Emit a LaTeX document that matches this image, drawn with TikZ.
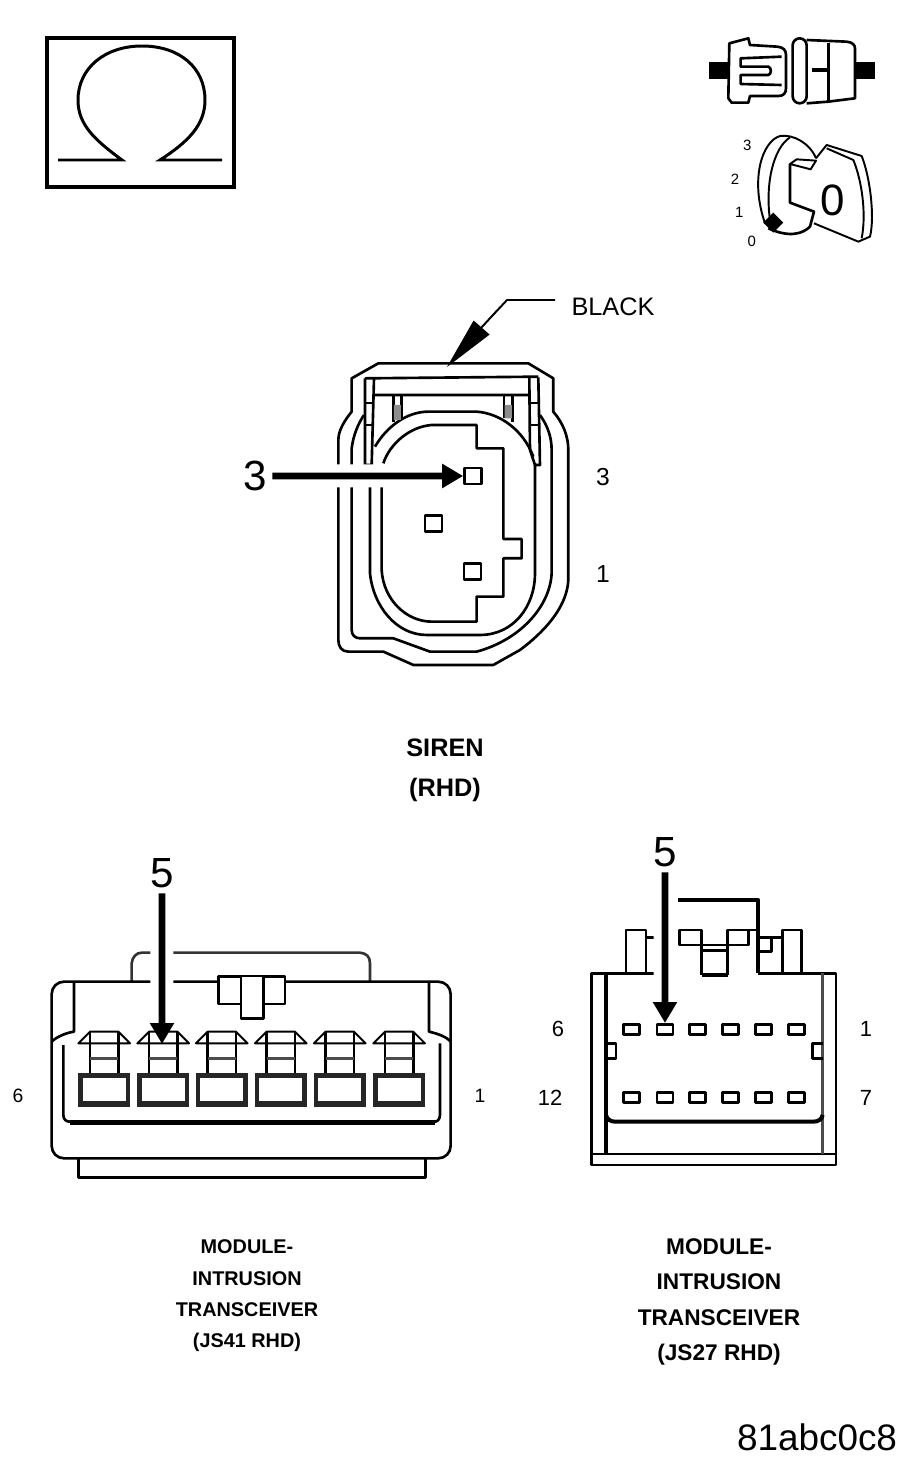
\documentclass[tikz,border=0pt]{standalone}
\usepackage{fontspec}
\setmainfont{Liberation Sans}
\usetikzlibrary{arrows.meta, calc, positioning}
\tikzset{
    wire/.style={line width=1.5pt, line join=round},
    wireThin/.style={line width=1.1pt, line join=round},
    wireHeavy/.style={line width=2.3pt, line join=round},
    pointer/.style={-{Triangle[length=0.42cm, width=0.46cm]}, line width=3.8pt, shorten <=3pt},
    halo/.style={white, line width=0.46cm},
    pinBox/.style={rectangle, draw, wire, fill=white, inner sep=0pt, minimum width=0.34cm, minimum height=0.32cm},
    pinSlot/.style={rectangle, draw, wire, fill=white, inner sep=0pt, minimum width=0.32cm, minimum height=0.2cm},
    bigNum/.style={font=\fontsize{24}{24}\selectfont, inner sep=0pt},
    pinNum/.style={font=\fontsize{12.5}{13}\selectfont, inner sep=0pt},
    keyNum/.style={font=\fontsize{8.5}{9}\selectfont, inner sep=0pt},
    caption/.style={align=center, inner sep=0pt, font=\bfseries},
}
% terminal of the left module, x is its left edge
\newcommand{\drawCavity}[1]{
    \fill[black!85] (#1,430) rectangle ++(155,100);
    \fill[white] (#1+13,445) rectangle ++(129,67);
    \draw[wireThin] (#1,340) -- ++(155,0) -- ++(-35,-35) -- ++(-85,0) -- cycle;
    \draw[wire] (#1+35,305) -- ++(0,125) (#1+120,305) -- ++(0,125);
    \draw[line width=2pt, black!70] (#1+35,385) -- ++(85,0);
}
% arrow from a label, with a white gap under it up to #2
\newcommand{\drawPointer}[3]{
    \draw[halo] (#1) -- (#2);
    \draw[pointer] (#1) -- (#3);
}

\begin{document}
\begin{tikzpicture}[x=0.02cm, y=-0.02cm]
    \useasboundingbox (0,0) rectangle (917,1467);

    % ohm box
    \draw[line width=2pt] (47,38) rectangle (234,187);
    \draw[line width=1.7pt] (58,160) -- (122,160) .. controls (95,140) and (78,125) .. (78,100)
        .. controls (78,68) and (105,46) .. (142,46) .. controls (180,46) and (205,68) .. (205,100)
        .. controls (205,125) and (188,142) .. (160,160) -- (222,160);

    % connector icon
    \begin{scope}[shift={(690,20)}, scale=0.3333]
        \fill (58,125) rectangle (118,178);
        \fill (497,125) rectangle (555,178);
        \draw[wire] (118,70) -- (175,55) -- (180,75) -- (262,80) .. controls (280,82) and (288,90) .. (288,105)
            -- (288,205) .. controls (288,220) and (280,228) .. (265,228) -- (180,228) -- (175,248) -- (125,248) -- (115,235) -- cycle;
        \draw[wire] (275,110) -- (152,115) -- (152,140) -- (235,140) .. controls (245,142) and (245,163) .. (235,165)
            -- (152,165) -- (152,192) -- (275,195);
        \draw[wire] (350,60) -- (470,65) .. controls (488,67) and (495,75) .. (495,85) -- (495,235) -- (415,245) -- (350,250);
        \draw[wire, rounded corners=4pt] (308,55) rectangle (350,250);
        \draw[wire] (415,68) -- (415,242);
        \draw[wireHeavy] (365,150) -- (415,150);
    \end{scope}

    % key icon
    \begin{scope}[shift={(690,20)}, scale=0.3333]
        \draw[wireThin] (270,348) .. controls (215,365) and (180,480) .. (225,610);
        \draw[wireThin] (270,348) .. controls (310,342) and (360,370) .. (378,415);
        \draw[wireThin] (300,352) .. controls (250,385) and (225,490) .. (240,600);
        \draw[wireThin] (378,422) -- (320,418) -- (300,432) -- (362,448) -- cycle;
        \draw[wire] (300,432) -- (300,548) -- (372,575) -- (360,620) .. controls (340,640) and (300,655) .. (235,625);
        \draw[wireThin] (378,415) -- (410,375) -- (515,408) .. controls (540,470) and (555,590) .. (540,650) -- (505,665) -- (372,610);
        \draw[wireThin] (410,385) -- (490,420) .. controls (515,480) and (530,580) .. (515,655);
        \fill (250,578) -- (280,608) -- (250,638) -- (220,608) -- cycle;
        \node[font=\fontsize{25}{25}\selectfont, inner sep=0pt] (keyZero) at (428,541) {0};
        \node[keyNum] (keyThree) at (172,375) {3};
        \node[keyNum] (keyTwo) at (135,478) {2};
        \node[keyNum] (keyOne) at (148,578) {1};
        \node[keyNum] (keyNil) at (185,665) {0};
    \end{scope}

    % siren connector
    \begin{scope}[shift={(320,340)}, scale=0.3333]
        \draw[wire] (55,380) -- (55,300) .. controls (55,270) and (75,240) .. (95,215) -- (95,115) -- (175,70) -- (625,70) -- (700,115) -- (700,215)
            .. controls (730,250) and (745,290) .. (745,330) -- (745,720) .. controls (740,820) and (640,900) .. (600,930) -- (520,975) -- (280,975) -- (190,935) -- (85,935)
            .. controls (65,935) and (55,920) .. (55,900) -- (55,380);
        \draw[wire] (95,380) -- (95,325) .. controls (100,285) and (115,250) .. (132,225);
        \draw[wire] (660,225) .. controls (685,260) and (695,295) .. (695,330) -- (695,700) .. controls (690,800) and (600,900) .. (470,935) -- (330,935) -- (220,895) -- (120,895)
            .. controls (105,895) and (95,885) .. (95,870) -- (95,380);
        \draw[wire] (150,380) -- (150,700) .. controls (160,800) and (230,885) .. (320,885) -- (480,885) .. controls (580,885) and (645,800) .. (645,700) -- (645,370);
        \draw[wire] (165,320) .. controls (200,260) and (260,215) .. (325,215) -- (470,215) .. controls (540,220) and (610,270) .. (640,350);
        \draw[wire] (185,380) -- (185,690) .. controls (190,780) and (260,845) .. (335,845) -- (470,845) -- (470,770) -- (550,770) -- (550,655) -- (605,655) -- (605,597) -- (550,597)
            -- (550,325) -- (470,325) -- (470,255) -- (335,255) .. controls (270,260) and (210,310) .. (190,370);
        \draw[wire] (135,115) -- (655,110) (165,165) -- (630,165);
        \draw[wire] (135,115) -- (135,375) -- (155,375) -- (162,115);
        \draw[wire] (628,112) -- (630,330) -- (645,375) -- (660,375) -- (655,112);
        \draw[wireThin] (135,190) -- (162,190) (135,255) -- (160,255) (630,190) -- (657,190) (630,255) -- (657,255);
        \draw[wire] (220,167) -- (220,245) (245,167) -- (245,235) (552,167) -- (552,235) (578,167) -- (578,245);
        \fill[black!45] (222,195) rectangle (243,240) (554,195) rectangle (576,235);
        \node[pinBox] (sirenPin3) at (459,408) {};
        \node[pinBox] (sirenPin2) at (341,551) {};
        \node[pinBox] (sirenPin1) at (458,695) {};
        \coordinate (sirenGap) at (200,408);
    \end{scope}
    \node[bigNum] (sirenLabel) at (255,476) {3};
    \drawPointer{sirenLabel.east}{sirenGap}{sirenPin3.west}
    \node[font=\fontsize{14.4}{15}\selectfont, inner sep=0pt] (blackLabel) at (613,307) {BLACK};
    \coordinate (blackTip) at (447,367);
    \draw[wireThin] (555,300) -- (507,300) -- (480,329);
    \draw[-{Triangle[length=1.05cm, width=0.42cm]}, line width=0.6pt] (497,310) -- (blackTip);
    \node[pinNum, font=\fontsize{14}{14}\selectfont] (sirenThree) at (603,477) {3};
    \node[pinNum, font=\fontsize{14}{14}\selectfont] (sirenOne) at (603,574) {1};
    \node[caption, font=\bfseries\fontsize{14.4}{22.8}\selectfont] (sirenCaption) at (445,770) {SIREN\\(RHD)};

    % left module
    \begin{scope}[shift={(40,930)}, scale=0.3333]
        \draw[wire, black!80] (275,155) -- (275,100) .. controls (277,80) and (290,68) .. (305,68) -- (960,68) .. controls (980,70) and (990,80) .. (990,100) -- (990,155);
        \draw[wire, rounded corners=7pt] (35,340) -- (35,155) -- (1232,155) -- (1232,685) -- (35,685) -- cycle;
        \draw[wire, fill=white] (535,155) -- (535,222) -- (735,222) -- (735,155) -- (735,140) -- (535,140) -- cycle;
        \draw[wire, fill=white] (603,140) -- (603,265) -- (670,265) -- (670,140);
        \draw[wire] (102,155) -- (102,305) .. controls (80,308) and (50,320) .. (35,335);
        \draw[wire] (1167,155) -- (1167,305) .. controls (1190,310) and (1220,320) .. (1232,335);
        \draw[wire] (70,345) -- (70,555) .. controls (70,570) and (80,575) .. (90,575);
        \draw[wire] (1200,340) -- (1200,555) .. controls (1200,570) and (1190,575) .. (1185,575);
        \draw[line width=2.6pt] (90,577) -- (1185,577);
        \draw[wire] (115,685) -- (115,742) -- (1157,742) -- (1157,685);
        \foreach \xpos in {115,292,468,645,822,1000} {
            \drawCavity{\xpos}
        }
        \coordinate (leftTip) at (366,342);
        \coordinate (leftGap) at (366,180);
    \end{scope}
    \node[bigNum] (leftLabel) at (162,873) {5};
    \drawPointer{leftLabel.south}{leftGap}{leftTip}
    \node[pinNum, font=\fontsize{11}{11}\selectfont] (leftSix) at (18,1096) {6};
    \node[pinNum, font=\fontsize{11}{11}\selectfont] (leftOne) at (480,1096) {1};
    \node[caption, font=\bfseries\fontsize{11.3}{17.8}\selectfont] (leftCaption) at (247,1296) {MODULE-\\INTRUSION\\TRANSCEIVER\\(JS41 RHD)};

    % right module
    \begin{scope}[shift={(580,880)}, scale=0.3333]
        \draw[wire] (35,822) -- (35,280) -- (225,280) (535,280) -- (768,280) -- (768,855) -- (35,855) -- (35,822) -- (768,822);
        \draw[wireHeavy] (78,280) -- (78,822);
        \draw[wire, black!70] (728,280) -- (728,822);
        \draw[wireHeavy] (78,705) .. controls (80,718) and (92,725) .. (105,725) -- (700,725) .. controls (715,725) and (726,718) .. (728,705);
        \draw[wire] (78,490) -- (108,490) -- (108,535) -- (78,535);
        \draw[wire] (728,490) -- (697,490) -- (697,535) -- (728,535);
        \draw[wire] (138,280) -- (138,150) -- (198,150) -- (198,280) (198,172) -- (225,172);
        \draw[wire] (607,280) -- (607,150) -- (665,150) -- (665,280);
        \draw[wireHeavy] (295,60) -- (535,60) -- (535,280);
        \draw[wire] (298,150) -- (365,150) -- (365,195) -- (298,195) -- cycle;
        \draw[wire] (443,195) -- (443,150) -- (505,150) -- (505,195) -- cycle;
        \draw[wire] (505,150) -- (535,150) (535,172) -- (607,172) (535,172) -- (575,172) -- (575,215) -- (535,215);
        \draw[wire] (365,195) -- (443,195) (365,212) -- (443,212);
        \draw[wire] (365,195) -- (365,285) (443,195) -- (443,285);
        \draw[wireHeavy] (365,285) -- (443,285);
        \foreach \pinx/\pinnum in {155/1,255/2,353/3,452/4,550/5,650/6} {
            \node[pinSlot] (upSlot\pinnum) at (\pinx,448) {};
            \node[pinSlot] (loSlot\pinnum) at (\pinx,652) {};
        }
        \coordinate (rightGap) at (255,300);
    \end{scope}
    \node[bigNum] (rightLabel) at (665,852) {5};
    \drawPointer{rightLabel.south}{rightGap}{upSlot2.north}
    \node[pinNum] (rightSix) at (558,1029) {6};
    \node[pinNum] (rightOne) at (866,1029) {1};
    \node[pinNum] (rightTwelve) at (550,1098) {12};
    \node[pinNum] (rightSeven) at (866,1098) {7};
    \node[caption, font=\bfseries\fontsize{12.9}{20.2}\selectfont] (rightCaption) at (719,1302) {MODULE-\\INTRUSION\\TRANSCEIVER\\(JS27 RHD)};

    \node[font=\fontsize{21}{21}\selectfont, inner sep=0pt] (figCode) at (817,1437) {81abc0c8};
\end{tikzpicture}
\end{document}
